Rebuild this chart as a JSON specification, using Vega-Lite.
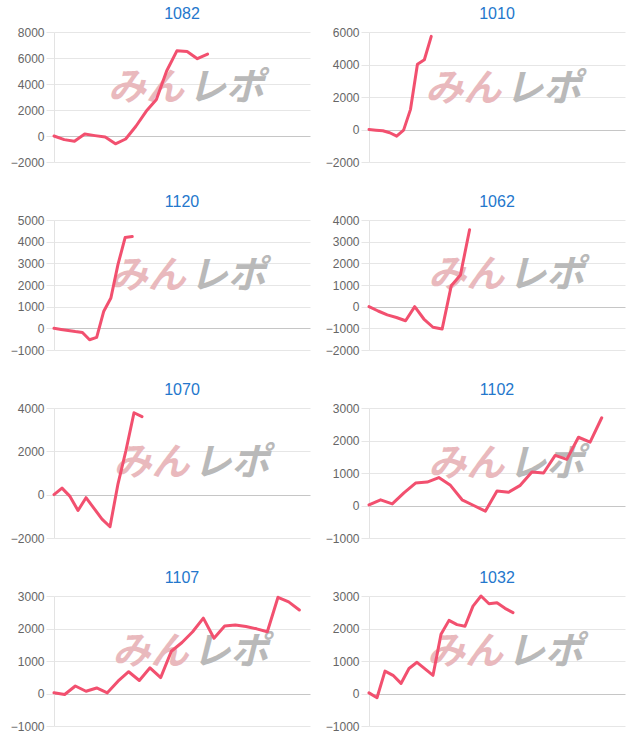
{
  "$schema": "https://vega.github.io/schema/vega-lite/v6.json",
  "padding": {"left": 10, "top": 6, "right": 5, "bottom": 5},
  "data": {"values": [
    {"id":"1082","i":0,"v":0},{"id":"1082","i":1,"v":-280},{"id":"1082","i":2,"v":-400},{"id":"1082","i":3,"v":150},{"id":"1082","i":4,"v":30},{"id":"1082","i":5,"v":-80},{"id":"1082","i":6,"v":-600},{"id":"1082","i":7,"v":-230},{"id":"1082","i":8,"v":750},{"id":"1082","i":9,"v":1900},{"id":"1082","i":10,"v":2800},{"id":"1082","i":11,"v":5000},{"id":"1082","i":12,"v":6550},{"id":"1082","i":13,"v":6500},{"id":"1082","i":14,"v":5950},{"id":"1082","i":15,"v":6300},
    {"id":"1010","i":0,"v":0},{"id":"1010","i":1,"v":-40},{"id":"1010","i":2,"v":-80},{"id":"1010","i":3,"v":-200},{"id":"1010","i":4,"v":-410},{"id":"1010","i":5,"v":-40},{"id":"1010","i":6,"v":1240},{"id":"1010","i":7,"v":4020},{"id":"1010","i":8,"v":4290},{"id":"1010","i":9,"v":5730},
    {"id":"1120","i":0,"v":0},{"id":"1120","i":1,"v":-50},{"id":"1120","i":2,"v":-100},{"id":"1120","i":3,"v":-150},{"id":"1120","i":4,"v":-190},{"id":"1120","i":5,"v":-525},{"id":"1120","i":6,"v":-420},{"id":"1120","i":7,"v":790},{"id":"1120","i":8,"v":1400},{"id":"1120","i":9,"v":2950},{"id":"1120","i":10,"v":4190},{"id":"1120","i":11,"v":4235},
    {"id":"1062","i":0,"v":0},{"id":"1062","i":1,"v":-200},{"id":"1062","i":2,"v":-380},{"id":"1062","i":3,"v":-500},{"id":"1062","i":4,"v":-650},{"id":"1062","i":5,"v":0},{"id":"1062","i":6,"v":-570},{"id":"1062","i":7,"v":-950},{"id":"1062","i":8,"v":-1030},{"id":"1062","i":9,"v":970},{"id":"1062","i":10,"v":1460},{"id":"1062","i":11,"v":3550},
    {"id":"1070","i":0,"v":0},{"id":"1070","i":1,"v":300},{"id":"1070","i":2,"v":-80},{"id":"1070","i":3,"v":-730},{"id":"1070","i":4,"v":-140},{"id":"1070","i":5,"v":-630},{"id":"1070","i":6,"v":-1130},{"id":"1070","i":7,"v":-1480},{"id":"1070","i":8,"v":500},{"id":"1070","i":9,"v":2050},{"id":"1070","i":10,"v":3780},{"id":"1070","i":11,"v":3600},
    {"id":"1102","i":0,"v":20},{"id":"1102","i":1,"v":175},{"id":"1102","i":2,"v":50},{"id":"1102","i":3,"v":390},{"id":"1102","i":4,"v":690},{"id":"1102","i":5,"v":720},{"id":"1102","i":6,"v":860},{"id":"1102","i":7,"v":620},{"id":"1102","i":8,"v":175},{"id":"1102","i":9,"v":0},{"id":"1102","i":10,"v":-175},{"id":"1102","i":11,"v":445},{"id":"1102","i":12,"v":410},{"id":"1102","i":13,"v":620},{"id":"1102","i":14,"v":1030},{"id":"1102","i":15,"v":1000},{"id":"1102","i":16,"v":1540},{"id":"1102","i":17,"v":1420},{"id":"1102","i":18,"v":2100},{"id":"1102","i":19,"v":1950},{"id":"1102","i":20,"v":2700},
    {"id":"1107","i":0,"v":20},{"id":"1107","i":1,"v":-30},{"id":"1107","i":2,"v":230},{"id":"1107","i":3,"v":70},{"id":"1107","i":4,"v":170},{"id":"1107","i":5,"v":20},{"id":"1107","i":6,"v":380},{"id":"1107","i":7,"v":670},{"id":"1107","i":8,"v":400},{"id":"1107","i":9,"v":790},{"id":"1107","i":10,"v":490},{"id":"1107","i":11,"v":1300},{"id":"1107","i":12,"v":1570},{"id":"1107","i":13,"v":1900},{"id":"1107","i":14,"v":2320},{"id":"1107","i":15,"v":1700},{"id":"1107","i":16,"v":2080},{"id":"1107","i":17,"v":2110},{"id":"1107","i":18,"v":2060},{"id":"1107","i":19,"v":1990},{"id":"1107","i":20,"v":1900},{"id":"1107","i":21,"v":2960},{"id":"1107","i":22,"v":2820},{"id":"1107","i":23,"v":2570},
    {"id":"1032","i":0,"v":20},{"id":"1032","i":1,"v":-130},{"id":"1032","i":2,"v":690},{"id":"1032","i":3,"v":560},{"id":"1032","i":4,"v":310},{"id":"1032","i":5,"v":770},{"id":"1032","i":6,"v":960},{"id":"1032","i":7,"v":760},{"id":"1032","i":8,"v":560},{"id":"1032","i":9,"v":1820},{"id":"1032","i":10,"v":2250},{"id":"1032","i":11,"v":2120},{"id":"1032","i":12,"v":2070},{"id":"1032","i":13,"v":2690},{"id":"1032","i":14,"v":3000},{"id":"1032","i":15,"v":2760},{"id":"1032","i":16,"v":2790},{"id":"1032","i":17,"v":2620},{"id":"1032","i":18,"v":2490}
  ]},
  "columns": 2,
  "spacing": {"row": 26, "column": 15},
  "concat": [
    {"title": {"text": "1082", "fontSize": 16}, "width": 256, "height": 130, "transform": [{"filter": "datum.id === '1082'"}],
     "layer": [
      {"data": {"values": [{}]}, "mark": {"type": "text", "text": "みん", "align": "right", "dx": -2, "color": "#e9b9bd"}, "encoding": {"x": {"datum": 12.9, "type": "quantitative"}, "y": {"datum": 3600, "type": "quantitative", "axis": {"values": [-2000, 0, 2000, 4000, 6000, 8000], "labelOverlap": false, "labelFontSize": 12}}}},
      {"data": {"values": [{}]}, "mark": {"type": "text", "text": "レポ", "align": "left", "dx": 2, "color": "#b9b9b9"}, "encoding": {"x": {"datum": 12.9, "type": "quantitative"}, "y": {"datum": 3600, "type": "quantitative", "axis": {"values": [-2000, 0, 2000, 4000, 6000, 8000], "labelOverlap": false, "labelFontSize": 12}}}},
      {"mark": "line", "encoding": {"x": {"field": "i", "type": "quantitative", "scale": {"domain": [0, 25], "nice": false, "zero": false}}, "y": {"field": "v", "type": "quantitative", "scale": {"domain": [-2000, 8000], "nice": false, "zero": false}, "axis": {"values": [-2000, 0, 2000, 4000, 6000, 8000], "labelOverlap": false, "labelFontSize": 12}}}}
     ]},
    {"title": {"text": "1010", "fontSize": 16}, "width": 256, "height": 130, "transform": [{"filter": "datum.id === '1010'"}],
     "layer": [
      {"data": {"values": [{}]}, "mark": {"type": "text", "text": "みん", "align": "right", "dx": -2, "color": "#e9b9bd"}, "encoding": {"x": {"datum": 19.4, "type": "quantitative"}, "y": {"datum": 2450, "type": "quantitative", "axis": {"values": [-2000, 0, 2000, 4000, 6000], "labelOverlap": false, "labelFontSize": 12}}}},
      {"data": {"values": [{}]}, "mark": {"type": "text", "text": "レポ", "align": "left", "dx": 2, "color": "#b9b9b9"}, "encoding": {"x": {"datum": 19.4, "type": "quantitative"}, "y": {"datum": 2450, "type": "quantitative", "axis": {"values": [-2000, 0, 2000, 4000, 6000], "labelOverlap": false, "labelFontSize": 12}}}},
      {"mark": "line", "encoding": {"x": {"field": "i", "type": "quantitative", "scale": {"domain": [0, 37], "nice": false, "zero": false}}, "y": {"field": "v", "type": "quantitative", "scale": {"domain": [-2000, 6000], "nice": false, "zero": false}, "axis": {"values": [-2000, 0, 2000, 4000, 6000], "labelOverlap": false, "labelFontSize": 12}}}}
     ]},
    {"title": {"text": "1120", "fontSize": 16}, "width": 256, "height": 130, "transform": [{"filter": "datum.id === '1120'"}],
     "layer": [
      {"data": {"values": [{}]}, "mark": {"type": "text", "text": "みん", "align": "right", "dx": -2, "color": "#e9b9bd"}, "encoding": {"x": {"datum": 18.8, "type": "quantitative"}, "y": {"datum": 2360, "type": "quantitative", "axis": {"values": [-1000, 0, 1000, 2000, 3000, 4000, 5000], "labelOverlap": false, "labelFontSize": 12}}}},
      {"data": {"values": [{}]}, "mark": {"type": "text", "text": "レポ", "align": "left", "dx": 2, "color": "#b9b9b9"}, "encoding": {"x": {"datum": 18.8, "type": "quantitative"}, "y": {"datum": 2360, "type": "quantitative", "axis": {"values": [-1000, 0, 1000, 2000, 3000, 4000, 5000], "labelOverlap": false, "labelFontSize": 12}}}},
      {"mark": "line", "encoding": {"x": {"field": "i", "type": "quantitative", "scale": {"domain": [0, 36], "nice": false, "zero": false}}, "y": {"field": "v", "type": "quantitative", "scale": {"domain": [-1000, 5000], "nice": false, "zero": false}, "axis": {"values": [-1000, 0, 1000, 2000, 3000, 4000, 5000], "labelOverlap": false, "labelFontSize": 12}}}}
     ]},
    {"title": {"text": "1062", "fontSize": 16}, "width": 256, "height": 130, "transform": [{"filter": "datum.id === '1062'"}],
     "layer": [
      {"data": {"values": [{}]}, "mark": {"type": "text", "text": "みん", "align": "right", "dx": -2, "color": "#e9b9bd"}, "encoding": {"x": {"datum": 15.0, "type": "quantitative"}, "y": {"datum": 1415, "type": "quantitative", "axis": {"values": [-2000, -1000, 0, 1000, 2000, 3000, 4000], "labelOverlap": false, "labelFontSize": 12}}}},
      {"data": {"values": [{}]}, "mark": {"type": "text", "text": "レポ", "align": "left", "dx": 2, "color": "#b9b9b9"}, "encoding": {"x": {"datum": 15.0, "type": "quantitative"}, "y": {"datum": 1415, "type": "quantitative", "axis": {"values": [-2000, -1000, 0, 1000, 2000, 3000, 4000], "labelOverlap": false, "labelFontSize": 12}}}},
      {"mark": "line", "encoding": {"x": {"field": "i", "type": "quantitative", "scale": {"domain": [0, 28], "nice": false, "zero": false}}, "y": {"field": "v", "type": "quantitative", "scale": {"domain": [-2000, 4000], "nice": false, "zero": false}, "axis": {"values": [-2000, -1000, 0, 1000, 2000, 3000, 4000], "labelOverlap": false, "labelFontSize": 12}}}}
     ]},
    {"title": {"text": "1070", "fontSize": 16}, "width": 256, "height": 130, "transform": [{"filter": "datum.id === '1070'"}],
     "layer": [
      {"data": {"values": [{}]}, "mark": {"type": "text", "text": "みん", "align": "right", "dx": -2, "color": "#e9b9bd"}, "encoding": {"x": {"datum": 17.2, "type": "quantitative"}, "y": {"datum": 1410, "type": "quantitative", "axis": {"values": [-2000, 0, 2000, 4000], "labelOverlap": false, "labelFontSize": 12}}}},
      {"data": {"values": [{}]}, "mark": {"type": "text", "text": "レポ", "align": "left", "dx": 2, "color": "#b9b9b9"}, "encoding": {"x": {"datum": 17.2, "type": "quantitative"}, "y": {"datum": 1410, "type": "quantitative", "axis": {"values": [-2000, 0, 2000, 4000], "labelOverlap": false, "labelFontSize": 12}}}},
      {"mark": "line", "encoding": {"x": {"field": "i", "type": "quantitative", "scale": {"domain": [0, 32], "nice": false, "zero": false}}, "y": {"field": "v", "type": "quantitative", "scale": {"domain": [-2000, 4000], "nice": false, "zero": false}, "axis": {"values": [-2000, 0, 2000, 4000], "labelOverlap": false, "labelFontSize": 12}}}}
     ]},
    {"title": {"text": "1102", "fontSize": 16}, "width": 256, "height": 130, "transform": [{"filter": "datum.id === '1102'"}],
     "layer": [
      {"data": {"values": [{}]}, "mark": {"type": "text", "text": "みん", "align": "right", "dx": -2, "color": "#e9b9bd"}, "encoding": {"x": {"datum": 11.8, "type": "quantitative"}, "y": {"datum": 1240, "type": "quantitative", "axis": {"values": [-1000, 0, 1000, 2000, 3000], "labelOverlap": false, "labelFontSize": 12}}}},
      {"data": {"values": [{}]}, "mark": {"type": "text", "text": "レポ", "align": "left", "dx": 2, "color": "#b9b9b9"}, "encoding": {"x": {"datum": 11.8, "type": "quantitative"}, "y": {"datum": 1240, "type": "quantitative", "axis": {"values": [-1000, 0, 1000, 2000, 3000], "labelOverlap": false, "labelFontSize": 12}}}},
      {"mark": "line", "encoding": {"x": {"field": "i", "type": "quantitative", "scale": {"domain": [0, 22], "nice": false, "zero": false}}, "y": {"field": "v", "type": "quantitative", "scale": {"domain": [-1000, 3000], "nice": false, "zero": false}, "axis": {"values": [-1000, 0, 1000, 2000, 3000], "labelOverlap": false, "labelFontSize": 12}}}}
     ]},
    {"title": {"text": "1107", "fontSize": 16}, "width": 256, "height": 130, "transform": [{"filter": "datum.id === '1107'"}],
     "layer": [
      {"data": {"values": [{}]}, "mark": {"type": "text", "text": "みん", "align": "right", "dx": -2, "color": "#e9b9bd"}, "encoding": {"x": {"datum": 12.8, "type": "quantitative"}, "y": {"datum": 1250, "type": "quantitative", "axis": {"values": [-1000, 0, 1000, 2000, 3000], "labelOverlap": false, "labelFontSize": 12}}}},
      {"data": {"values": [{}]}, "mark": {"type": "text", "text": "レポ", "align": "left", "dx": 2, "color": "#b9b9b9"}, "encoding": {"x": {"datum": 12.8, "type": "quantitative"}, "y": {"datum": 1250, "type": "quantitative", "axis": {"values": [-1000, 0, 1000, 2000, 3000], "labelOverlap": false, "labelFontSize": 12}}}},
      {"mark": "line", "encoding": {"x": {"field": "i", "type": "quantitative", "scale": {"domain": [0, 24], "nice": false, "zero": false}}, "y": {"field": "v", "type": "quantitative", "scale": {"domain": [-1000, 3000], "nice": false, "zero": false}, "axis": {"values": [-1000, 0, 1000, 2000, 3000], "labelOverlap": false, "labelFontSize": 12}}}}
     ]},
    {"title": {"text": "1032", "fontSize": 16}, "width": 256, "height": 130, "transform": [{"filter": "datum.id === '1032'"}],
     "layer": [
      {"data": {"values": [{}]}, "mark": {"type": "text", "text": "みん", "align": "right", "dx": -2, "color": "#e9b9bd"}, "encoding": {"x": {"datum": 17.0, "type": "quantitative"}, "y": {"datum": 1250, "type": "quantitative", "axis": {"values": [-1000, 0, 1000, 2000, 3000], "labelOverlap": false, "labelFontSize": 12}}}},
      {"data": {"values": [{}]}, "mark": {"type": "text", "text": "レポ", "align": "left", "dx": 2, "color": "#b9b9b9"}, "encoding": {"x": {"datum": 17.0, "type": "quantitative"}, "y": {"datum": 1250, "type": "quantitative", "axis": {"values": [-1000, 0, 1000, 2000, 3000], "labelOverlap": false, "labelFontSize": 12}}}},
      {"mark": "line", "encoding": {"x": {"field": "i", "type": "quantitative", "scale": {"domain": [0, 32], "nice": false, "zero": false}}, "y": {"field": "v", "type": "quantitative", "scale": {"domain": [-1000, 3000], "nice": false, "zero": false}, "axis": {"values": [-1000, 0, 1000, 2000, 3000], "labelOverlap": false, "labelFontSize": 12}}}}
     ]}
  ],
  "config": {
    "view": {"stroke": null},
    "font": "Liberation Sans",
    "axisX": {"disable": true},
    "axis": {"labelFontSize": 12, "labelColor": "#666666", "labelFont": "Liberation Sans"},
    "axisY": {
      "title": null, "grid": true, "format": "d", "labelOverlap": false, "labelFlush": false,
      "gridColor": {"condition": {"test": "datum.value === 0", "value": "#c6c6c6"}, "value": "#e6e6e6"},
      "domainColor": "#e3e3e3", "tickColor": "#e6e6e6", "tickSize": 8,
      "labelPadding": 2, "labelColor": "#666666", "labelFontSize": 12, "labelFont": "Liberation Sans"
    },
    "title": {"color": "#2477cc", "fontSize": 16, "fontWeight": "normal", "offset": 4, "font": "Liberation Sans"},
    "line": {"color": "#f2506f", "strokeWidth": 3, "strokeJoin": "round", "strokeCap": "round"},
    "text": {"font": "Noto Sans CJK JP", "fontSize": 38, "fontWeight": "bold", "fontStyle": "italic", "baseline": "middle"}
  }
}
